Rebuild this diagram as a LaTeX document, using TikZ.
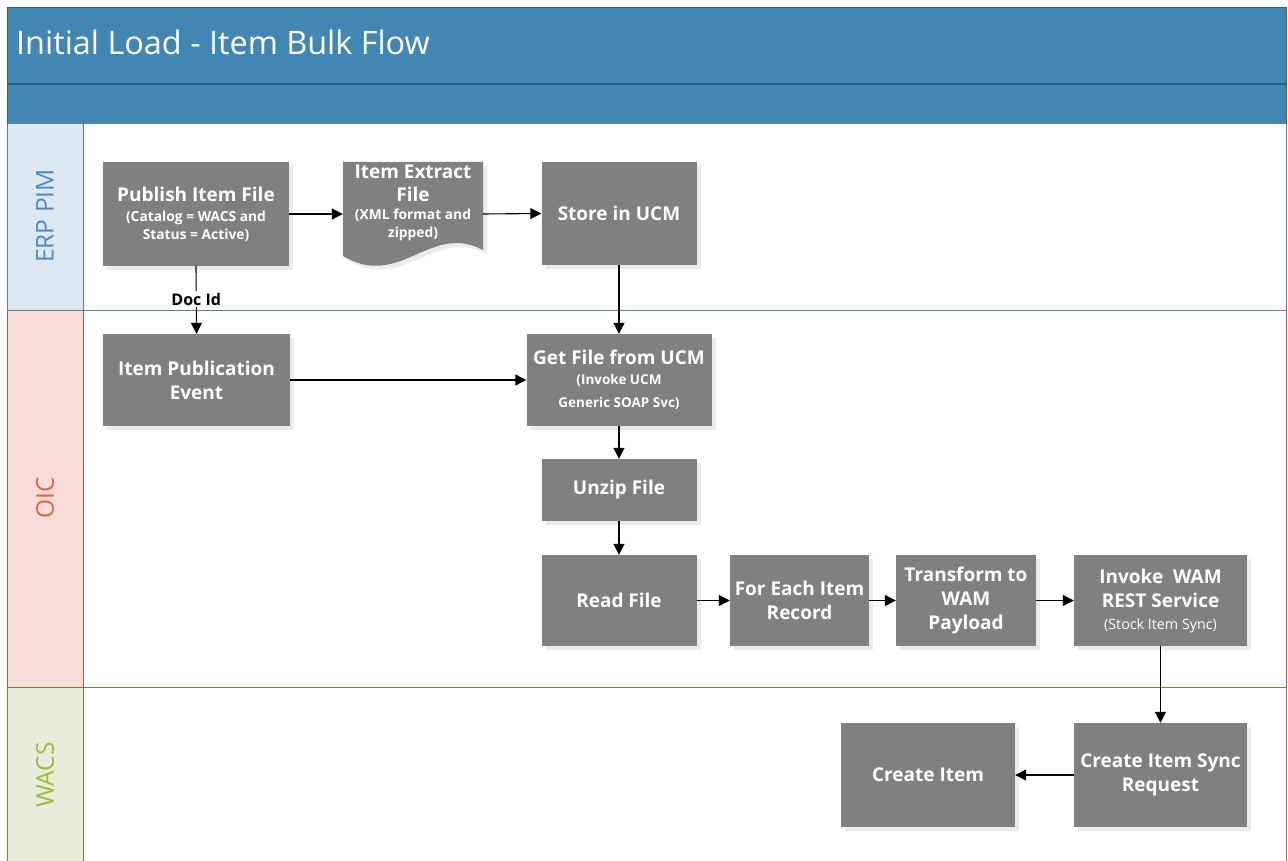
\documentclass[tikz,border=0pt]{standalone}
\usepackage{fontspec}
\setmainfont{Open Sans}
\usetikzlibrary{arrows.meta,shadows}
\definecolor{titleblue}{HTML}{4286B3}
\definecolor{bandline}{HTML}{2F5F80}
\definecolor{erpfill}{HTML}{DDE7F0}
\definecolor{erptext}{HTML}{4A8BC2}
\definecolor{erpline}{HTML}{5A7F9E}
\definecolor{oicfill}{HTML}{F8DCDA}
\definecolor{oictext}{HTML}{E0663F}
\definecolor{oicline}{HTML}{B35A40}
\definecolor{wacsfill}{HTML}{E9ECDA}
\definecolor{wacstext}{HTML}{9BBB40}
\definecolor{wacsline}{HTML}{7A8040}
\definecolor{boxgray}{HTML}{808080}
\newcommand{\mysubb}{\bfseries\fontsize{13.8}{17}\selectfont}
\newcommand{\mysubm}{\bfseries\fontsize{13.5}{23}\selectfont}
\newcommand{\mysubr}{\mdseries\fontsize{14.3}{23}\selectfont}
\tikzset{
  procbox/.style={fill=boxgray, text=white, align=center, inner sep=0pt,
    font=\bfseries\fontsize{19}{24}\selectfont,
    drop shadow={shadow xshift=4pt, shadow yshift=-4pt, fill=black, opacity=0.08}},
  flow/.style={line width=1.1pt, -{Triangle[length=11pt,width=11pt]}},
  lanelabel/.style={rotate=90, font=\fontsize{24.5}{28}\selectfont},
}
\begin{document}
\begin{tikzpicture}[x=1pt,y=-1pt]
\useasboundingbox (0,0) rectangle (1288,861);
% header bands
\fill[titleblue] (7,7) rectangle (1286,123);
\draw[bandline, line width=1.2pt] (7,84) -- (1286,84);
\draw[bandline, line width=0.8pt] (7,7) rectangle (1286,123);
\node[anchor=base west, text=white, font=\fontsize{32.4}{36}\selectfont, inner sep=0pt] (title) at (16,55) {Initial Load - Item Bulk Flow};
% lane label fills
\fill[erpfill] (7,123) rectangle (83,310);
\fill[oicfill] (7,310) rectangle (83,687);
\fill[wacsfill] (7,687) rectangle (83,870);
% lane lines
\draw[oicline, line width=0.8pt] (7,310) -- (7,687) (83,310) -- (83,687) (1286,310) -- (1286,687);
\draw[wacsline, line width=0.8pt] (7,687) -- (7,870) (83,687) -- (83,870) (1286,687) -- (1286,870) (7,687) -- (1286,687);
\draw[erpline, line width=0.8pt] (7,123) rectangle (1286,310) (83,123) -- (83,310);
% lane labels
\node[lanelabel, text=erptext] (lerp) at (45,216) {ERP PIM};
\node[lanelabel, text=oictext] (loic) at (45,498) {OIC};
\node[lanelabel, text=wacstext] (lwacs) at (45,775) {WACS};
% ERP PIM boxes
\node[procbox, minimum width=186pt, minimum height=104pt] (pub) at (196,214) {Publish Item File\\[-4pt]{\mysubb(Catalog = WACS and}\\[-6pt]{\mysubb Status = Active)}};
% document shape
\fill[black, opacity=0.08] (347,166) -- (487,166) -- (487,254) .. controls (434,226) and (404,294) .. (347,260) -- cycle;
\fill[boxgray] (343,162) -- (483,162) -- (483,250) .. controls (430,222) and (400,290) .. (343,256) -- cycle;
\node[minimum width=140pt, minimum height=104pt, inner sep=0pt] (ext) at (413,214) {};
\node[text=white, align=center, inner sep=0pt, font=\bfseries\fontsize{19}{24}\selectfont] (extt) at (413,203) {Item Extract\\[-1pt]File\\[-6pt]{\mysubb(XML format and}\\[-6pt]{\mysubb zipped)}};
\node[procbox, minimum width=155pt, minimum height=103pt] (store) at (619,213.5) {Store in UCM};
% OIC boxes
\node[procbox, minimum width=187pt, minimum height=92pt] (ipe) at (196.5,380) {Item Publication\\Event};
\node[procbox, minimum width=185pt, minimum height=92pt] (get) at (619,380) {Get File from UCM\\[-4pt]{\mysubm(Invoke UCM}\\[-1pt]{\mysubm Generic SOAP Svc)}};
\node[procbox, minimum width=155pt, minimum height=62pt] (unzip) at (619,490) {Unzip File};
\node[procbox, minimum width=155pt, minimum height=91pt] (read) at (619,600.5) {Read File};
\node[procbox, minimum width=139pt, minimum height=91pt] (fe) at (799.5,600.5) {For Each Item\\Record};
\node[procbox, minimum width=140pt, minimum height=91pt] (tr) at (966,600.5) {Transform to\\WAM\\Payload};
\node[procbox, minimum width=173pt, minimum height=91pt] (inv) at (1160.5,600.5) {Invoke\ \ WAM\\REST Service\\[-2pt]{\mysubr(Stock Item Sync)}};
% WACS boxes
\node[procbox, minimum width=174pt, minimum height=104pt] (ci) at (928,775) {Create Item};
\node[procbox, minimum width=173pt, minimum height=104pt] (cis) at (1160.5,775) {Create Item Sync\\Request};
% connectors
\draw[flow] (pub.east) -- (ext.west);
\draw[flow] (ext.east) -- (store.west);
\draw[flow] (store.south) -- (get.north);
\draw[flow] (pub.south) -- node[pos=0.49, fill=white, text=black, inner sep=2pt, font=\bfseries\fontsize{16}{18}\selectfont] (docid) {Doc Id} (ipe.north);
\draw[flow] (ipe.east) -- (get.west);
\draw[flow] (get.south) -- (unzip.north);
\draw[flow] (unzip.south) -- (read.north);
\draw[flow] (read.east) -- (fe.west);
\draw[flow] (fe.east) -- (tr.west);
\draw[flow] (tr.east) -- (inv.west);
\draw[flow] (inv.south) -- (cis.north);
\draw[flow] (cis.west) -- (ci.east);
\end{tikzpicture}
\end{document}
